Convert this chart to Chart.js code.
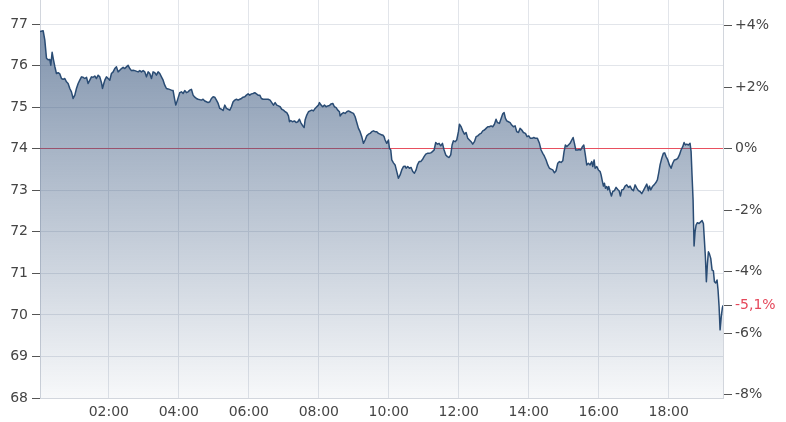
<!DOCTYPE html>
<html><head><meta charset="utf-8">
<script src="https://cdn.jsdelivr.net/npm/chart.js@4.4.1/dist/chart.umd.min.js"></script>
<style>html,body{margin:0;padding:0;background:#fff}#wrap{width:786px;height:422px;position:relative}</style>
</head><body><div id="wrap"><canvas id="c" width="786" height="422"></canvas></div>
<script>
// time in minutes after 00:00
const times = [
2,7.4,10.2,13.1,15.9,18.8,20.5,22.8,25.1,27.4,30.2,33.1,36.0,38.8,41.7,44.5,47.4,50.2,53.1,55.9,58.8,61.7,64.5,67.4,70.2,73.1,75.9,78.8,81.7,84.5,87.4,90.2,93.1,95.9,98.8,101.7,104.5,107.4,109.1,111.4,113.1,115.9,118.8,121.7,124.5,127.4,130.2,133.1,135.9,138.8,141.7,144.5,147.4,150.2,153.1,155.9,158.8,161.7,164.5,170.2,173.1,175.9,178.8,181.7,184.5,187.4,190.2,193.1,195.9,198.8,201.6,204.5,207.4,210.2,213.1,215.9,218.8,221.6,227.4,230.2,233.1,234.8,237.6,241.6,244.5,247.4,250.2,253.1,255.9,258.8,261.6,264.5,267.4,270.2,273.1,278.8,281.6,284.5,287.4,290.2,293.1,295.9,298.8,301.6,304.5,307.4,310.2,313.1,315.9,318.8,321.6,324.5,327.4,330.2,333.1,335.9,338.8,341.6,344.5,347.4,350.2,353.1,355.9,358.8,361.6,364.5,367.4,370.2,373.1,375.9,378.8,381.6,384.5,387.4,393.1,
396.5,399.4,402.3,405.1,408.0,410.8,413.7,416.5,419.4,422.3,425.1,428.0,429.7,432.0,434.8,438.3,441.1,444.0,446.8,449.1,452.5,454.8,456.5,459.4,462.3,465.1,468.0,470.8,473.7,476.5,479.4,481.1,484.0,486.8,489.7,492.5,495.4,498.3,501.1,504.0,506.8,509.7,512.5,515.4,516.5,519.4,522.3,525.1,528.0,530.8,533.7,536.5,539.4,542.3,545.1,548.0,550.8,553.7,556.5,559.4,562.2,565.1,568.0,570.8,573.7,576.5,579.4,582.2,585.1,588.0,589.7,592.0,593.7,596.5,599.4,601.1,603.4,605.1,608.0,610.8,613.7,616.5,619.4,622.2,625.1,628.0,629.7,632.5,635.4,638.2,641.1,643.9,646.8,649.1,652.0,654.8,657.7,660.5,663.4,666.2,669.1,672.0,674.8,677.7,680.5,683.4,686.2,689.1,692.0,694.8,697.7,700.5,703.4,706.2,708.5,710.8,713.7,716.5,719.4,721.1,724.0,726.8,729.7,732.5,735.4,738.2,741.1,743.9,746.8,749.7,752.5,755.4,758.2,761.1,764.0,766.8,769.7,772.5,775.4,778.2,781.1,783.9,786.2,789.6,
792.6,795.4,797.7,800.0,802.3,805.1,808.0,810.8,813.7,816.6,819.4,822.3,825.1,828.0,830.8,834.3,837.1,840.0,842.8,845.7,848.6,851.4,854.8,858.3,861.1,864.0,866.8,869.7,872.6,875.4,878.3,881.1,884.0,886.8,889.7,892.6,895.4,898.3,900.5,902.8,905.1,908.0,910.8,913.7,916.0,918.3,920.6,923.4,926.3,929.1,932.0,934.3,936.6,939.4,942.3,945.1,948.0,949.7,952.0,953.7,956.6,959.4,962.3,964.0,965.7,968.0,969.7,971.4,973.7,975.4,977.1,979.4,981.7,984.0,986.8,989.7,992.5,994.8,997.1,999.4,1002.3,1005.1,1008.0,1010.8,1013.7,1016.6,1019.4,1022.3,1025.1,1028.0,1030.8,1033.7,1036.5,1039.4,1042.3,1045.1,1046.8,1049.1,1052.0,1054.8,1057.7,1060.5,1062.8,1065.1,1068.0,1070.8,1073.1,1075.4,1078.3,1081.1,1084.0,1086.8,1089.7,1092.5,1095.4,1098.3,1101.1,1104.0,1106.3,1108.6,1110.8,1113.7,1116.5,1118.3,1120.0,1121.7,1123.4,1125.1,1126.8,1129.1,1132.0,1134.8,1137.1,1139.4,1141.1,1142.8,1144.5,1146.3,1148.0,1149.7,1152.0,1154.3,1156.5,1158.3,1160.5,1162.8,1164.5,1166.3,1168.0,1170.0,1171.8,1173.0
];
const prices = [
76.82,76.84,76.62,76.18,76.14,76.15,76.01,76.32,76.14,75.98,75.81,75.83,75.80,75.69,75.67,75.69,75.61,75.57,75.45,75.37,75.21,75.29,75.45,75.57,75.65,75.73,75.72,75.69,75.72,75.57,75.65,75.73,75.72,75.75,75.69,75.77,75.73,75.59,75.45,75.57,75.65,75.73,75.69,75.65,75.81,75.85,75.93,75.97,75.85,75.89,75.93,75.96,75.93,75.97,76.01,75.93,75.88,75.89,75.88,75.85,75.88,75.85,75.88,75.85,75.73,75.85,75.81,75.69,75.85,75.83,75.77,75.85,75.81,75.73,75.65,75.53,75.45,75.44,75.41,75.40,75.17,75.05,75.17,75.35,75.37,75.33,75.40,75.35,75.37,75.41,75.43,75.29,75.24,75.21,75.19,75.17,75.19,75.15,75.13,75.11,75.13,75.21,75.25,75.24,75.17,75.09,74.97,74.95,74.92,75.05,74.97,74.95,74.93,75.01,75.13,75.17,75.19,75.17,75.19,75.21,75.24,75.25,75.29,75.32,75.29,75.32,75.33,75.35,75.32,75.29,75.29,75.21,75.19,75.19,75.19,
75.17,75.11,75.05,75.11,75.05,75.03,75.01,74.95,74.93,74.89,74.87,74.79,74.65,74.68,74.65,74.67,74.63,74.65,74.71,74.63,74.55,74.51,74.69,74.81,74.89,74.91,74.93,74.91,74.97,75.01,75.05,75.11,75.05,75.01,75.05,75.01,75.03,75.04,75.08,75.09,75.01,74.99,74.93,74.89,74.79,74.84,74.87,74.85,74.89,74.91,74.89,74.87,74.85,74.77,74.63,74.49,74.41,74.29,74.13,74.21,74.31,74.35,74.37,74.41,74.43,74.41,74.41,74.37,74.35,74.33,74.33,74.29,74.21,74.13,74.21,74.01,73.97,73.73,73.66,73.61,73.45,73.29,73.37,73.49,73.57,73.58,73.53,73.57,73.53,73.55,73.45,73.41,73.49,73.61,73.69,73.69,73.74,73.81,73.87,73.89,73.89,73.90,73.93,73.97,74.15,74.11,74.13,74.07,74.13,73.97,73.85,73.81,73.79,73.85,74.09,74.19,74.17,74.21,74.41,74.59,74.53,74.43,74.35,74.39,74.25,74.21,74.17,74.11,74.17,74.29,74.31,74.35,74.37,74.43,74.45,74.49,74.53,74.53,74.55,74.53,74.59,74.71,74.63,74.61,
74.73,74.84,74.87,74.73,74.67,74.65,74.63,74.57,74.53,74.55,74.41,74.39,74.49,74.45,74.39,74.37,74.29,74.31,74.25,74.25,74.27,74.25,74.25,74.13,73.97,73.89,73.82,73.73,73.61,73.53,73.51,73.49,73.42,73.47,73.65,73.69,73.67,73.71,73.93,74.09,74.05,74.09,74.13,74.21,74.27,74.13,73.97,73.97,73.98,73.97,74.05,74.09,73.89,73.61,73.65,73.61,73.69,73.57,73.73,73.53,73.57,73.49,73.45,73.37,73.25,73.10,73.17,73.05,73.09,73.01,73.09,72.97,72.86,72.97,72.99,73.07,73.02,72.99,72.86,73.01,73.02,73.10,73.13,73.07,73.10,73.02,72.99,73.13,73.05,72.99,72.97,72.92,72.99,73.07,73.15,72.99,73.10,73.01,73.09,73.13,73.18,73.25,73.42,73.61,73.77,73.89,73.90,73.81,73.73,73.61,73.53,73.65,73.73,73.74,73.77,73.85,73.97,74.05,74.15,74.09,74.11,74.09,74.13,73.93,73.33,72.77,71.66,72.00,72.16,72.22,72.20,72.24,72.27,72.20,71.80,71.40,70.80,71.24,71.52,71.47,71.36,71.08,71.06,70.80,70.77,70.84,70.60,70.20,69.64,69.96,70.16,70.23
];
const baseline = 74;                       // previous close (0%)
const priceTicks = [68,69,70,71,72,73,74,75,76,77];
const timeTicks = [120,240,360,480,600,720,840,960,1080];
const timeTickLabels = ['02:00','04:00','06:00','08:00','10:00','12:00','14:00','16:00','18:00'];
const pctTicks = [4,2,0,-2,-4,-5.1,-6,-8];
const pctTickLabels = ['+4%','+2%','0%','-2%','-4%','-5,1%','-6%','-8%'];

const FONT = {family:'"DejaVu Sans", Verdana, sans-serif', size:14};
const TXT = '#454545';
const RED = '#e5475a';
const GRID = '#e2e5ea';
const AXIS = '#d2d6dd';

const points = times.map((t,i)=>({x:t, y:prices[i]}));

const baseLinePlugin = {
  id:'baseLine',
  beforeDatasetsDraw(chart){
    const {ctx, chartArea, scales} = chart;
    const p = scales.y.getPixelForValue(baseline);
    const y = Math.round(p - 0.5) + 0.5;   // same row as the grid line
    ctx.save();
    ctx.strokeStyle = '#e8505f';
    ctx.lineWidth = 1;
    ctx.beginPath();
    ctx.moveTo(chartArea.left, y);
    ctx.lineTo(chartArea.right, y);
    ctx.stroke();
    ctx.restore();
  }
};

function noPadY(s, w){ s.width = w; s.paddingTop = 0; s.paddingBottom = 0; }

new Chart(document.getElementById('c'), {
  type:'line',
  data:{datasets:[{
    data:points,
    yAxisID:'y',
    borderColor:'#2a4c74',
    borderWidth:1.5,
    borderJoinStyle:'round',
    pointRadius:0,
    tension:0,
    fill:'start',
    backgroundColor(ctx){
      const ca = ctx.chart.chartArea;
      if(!ca) return 'rgba(60,90,130,0.4)';
      const g = ctx.chart.ctx.createLinearGradient(0, ca.top, 0, ca.bottom);
      g.addColorStop(0, 'rgba(55,85,125,0.68)');
      g.addColorStop(1, 'rgba(55,85,125,0.04)');
      return g;
    }
  }]},
  options:{
    responsive:false,
    animation:false,
    devicePixelRatio:1,
    layout:{padding:0},
    plugins:{legend:{display:false}, tooltip:{enabled:false}},
    scales:{
      x:{
        type:'linear', min:2, max:1173,
        afterBuildTicks(s){ s.ticks = timeTicks.map(v=>({value:v})); },
        afterFit(s){ s.height = 24; s.paddingLeft = 0; s.paddingRight = 0; },
        ticks:{callback:(v,i)=>timeTickLabels[i], color:TXT, font:FONT, padding:6, maxRotation:0, autoSkip:false},
        grid:{color:GRID, drawTicks:false},
        border:{color:AXIS}
      },
      y:{
        position:'left', min:68, max:77.58,
        afterBuildTicks(s){ s.ticks = priceTicks.map(v=>({value:v})); },
        afterFit(s){ noPadY(s, 40); },
        ticks:{callback:v=>String(v), color:TXT, font:FONT, padding:4, autoSkip:false},
        grid:{color:GRID, tickColor:'#555', tickLength:8},
        border:{color:AXIS}
      },
      y2:{
        position:'right', min:68, max:77.58,
        afterBuildTicks(s){ s.ticks = pctTicks.map(p=>({value: baseline*(1+p/100)})); },
        afterFit(s){ noPadY(s, 63); },
        ticks:{callback:(v,i)=>pctTickLabels[i], color:c=> pctTicks[c.index]===-5.1 ? RED : TXT, font:FONT, padding:3, autoSkip:false},
        grid:{drawOnChartArea:false, tickColor:'#555', tickLength:9},
        border:{color:AXIS}
      }
    }
  },
  plugins:[baseLinePlugin]
});
</script>
</body></html>
